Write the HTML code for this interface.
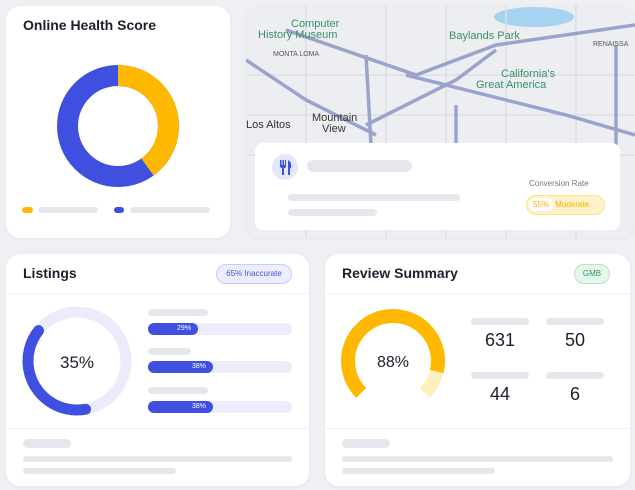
<!DOCTYPE html>
<html><head><style>
*{margin:0;padding:0;box-sizing:border-box}
body{width:635px;height:490px;background:#eef0f4;font-family:"Liberation Sans",sans-serif;position:relative;overflow:hidden;color:#1d1f2b}
.card{position:absolute;background:#fff;border-radius:14px;box-shadow:0 1px 4px rgba(0,0,0,.05)}
.abs{position:absolute}
.g{position:absolute;background:#e6e7ec;border-radius:6px}
.t{position:absolute;font-size:14px;font-weight:600}
</style></head><body>
<div class="card" style="left:6px;top:6px;width:224px;height:232px">
<div class="t" style="left:17px;top:11px">Online Health Score</div>
<svg class="abs" style="left:0;top:0" width="224" height="232">
<circle cx="112" cy="120" r="50.5" fill="none" stroke="#3f4fe0" stroke-width="21"/>
<circle cx="112" cy="120" r="50.5" fill="none" stroke="#ffb800" stroke-width="21" stroke-dasharray="127 400" transform="rotate(-90 112 120)"/>
</svg>
<div class="abs" style="left:16px;top:201px;width:11px;height:6px;border-radius:3px;background:#ffb800"></div>
<div class="g" style="left:32px;top:201px;width:60px;height:6px"></div>
<div class="abs" style="left:108px;top:201px;width:10px;height:6px;border-radius:3px;background:#3f4fe0"></div>
<div class="g" style="left:124px;top:201px;width:80px;height:6px"></div>
</div>

<div class="card" style="left:246px;top:5px;width:389px;height:233px;overflow:hidden;background:#eceef1">
<svg class="abs" width="389" height="233" style="left:0;top:0">
<ellipse cx="288" cy="12" rx="40" ry="10" fill="#a6d3f0"/>
<g fill="none" stroke="#dcdfe5" stroke-width="1.5">
<path d="M0 70 L389 70 M0 110 L389 110 M0 150 L389 150 M60 0 L60 233 M140 0 L140 233 M200 0 L200 233 M260 0 L260 233 M330 0 L330 233"/>
</g>
<g fill="none" stroke="#9aa3cc" stroke-width="3.5">
<path d="M40 25 L170 70 L250 40 L389 20"/>
<path d="M160 70 L320 110 L389 130"/>
<path d="M0 55 L60 95 L130 130"/>
<path d="M120 50 L125 140"/>
<path d="M120 120 L210 75 L250 45"/>
<path d="M370 40 L370 140 M210 100 L210 140"/>
</g>
<g font-size="11" fill="#3a8f6a"><text x="45" y="22">Computer</text><text x="12" y="33">History Museum</text><text x="203" y="34">Baylands Park</text><text x="255" y="72">California's</text><text x="230" y="83">Great America</text></g>
<g font-size="11" fill="#333"><text x="66" y="116">Mountain</text><text x="76" y="127">View</text><text x="0" y="123">Los Altos</text></g>
<g font-size="7" fill="#555"><text x="27" y="51">MONTA LOMA</text><text x="347" y="41">RENAISSA</text></g>
</svg>
<div class="abs" style="left:9px;top:138px;width:365px;height:87px;background:#fff;border-radius:8px">
<svg class="abs" style="left:17px;top:11px" width="26" height="26"><circle cx="13" cy="13" r="13" fill="#e4e6fb"/><path d="M8 6 V12 Q8 14 10 14 V21 H12 V14 Q14 14 14 12 V6 H13 V11 H12 V6 H10.5 V11 H9.5 V6Z M16 6 Q20 8 19 14 H18 V21 H16Z" fill="#3f4fe0"/></svg>
<div class="g" style="left:52px;top:17px;width:105px;height:12px"></div>
<div class="g" style="left:33px;top:51px;width:172px;height:7px"></div>
<div class="g" style="left:33px;top:66px;width:89px;height:7px"></div>
<div class="abs" style="left:274px;top:36px;font-size:8px;color:#777">Conversion Rate</div>
<div class="abs" style="left:271px;top:52px;width:79px;height:20px;border-radius:10px;background:#fff1c8;border:1px solid #ffe08a;font-size:8px;color:#f2b400;line-height:18px"><span style="background:#fff;border-radius:9px;padding:2px 4px;margin-left:2px">55%</span> Moderate</div>
</div>
</div>

<div class="card" style="left:6px;top:254px;width:303px;height:232px">
<div class="t" style="left:17px;top:11px">Listings</div>
<div class="abs" style="left:210px;top:10px;width:76px;height:20px;border-radius:10px;background:#eceeff;border:1px solid #c8ccf6;color:#4a55cf;font-size:8px;text-align:center;line-height:18px">65% Inaccurate</div>
<div class="abs" style="left:0;top:39px;width:303px;height:1px;background:#f0f1f4"></div>
<svg class="abs" style="left:0;top:0" width="303" height="232">
<circle cx="71" cy="107" r="49" fill="none" stroke="#ebebfc" stroke-width="11"/>
<circle cx="71" cy="107" r="49" fill="none" stroke="#3f4fe0" stroke-width="11" stroke-linecap="round" stroke-dasharray="118 400" transform="rotate(80 71 107)" />
<text x="71" y="114" font-size="17" text-anchor="middle" fill="#1d1f2b">35%</text>
</svg>
<div class="g" style="left:142px;top:55px;width:60px;height:7px"></div>
<div class="g" style="left:142px;top:94px;width:43px;height:7px"></div>
<div class="g" style="left:142px;top:133px;width:60px;height:7px"></div>
<div class="abs" style="left:142px;top:69px;width:144px;height:12px;border-radius:6px;background:#ebebfc"><div style="width:50px;height:12px;border-radius:6px;background:#3f4fe0;color:#fff;font-size:7px;text-align:right;padding-right:7px;line-height:12px">29%</div></div>
<div class="abs" style="left:142px;top:107px;width:144px;height:12px;border-radius:6px;background:#ebebfc"><div style="width:65px;height:12px;border-radius:6px;background:#3f4fe0;color:#fff;font-size:7px;text-align:right;padding-right:7px;line-height:12px">38%</div></div>
<div class="abs" style="left:142px;top:147px;width:144px;height:12px;border-radius:6px;background:#ebebfc"><div style="width:65px;height:12px;border-radius:6px;background:#3f4fe0;color:#fff;font-size:7px;text-align:right;padding-right:7px;line-height:12px">38%</div></div>
<div class="abs" style="left:0;top:174px;width:303px;height:1px;background:#f0f1f4"></div>
<div class="g" style="left:17px;top:185px;width:48px;height:9px"></div>
<div class="g" style="left:17px;top:202px;width:269px;height:6px"></div>
<div class="g" style="left:17px;top:214px;width:153px;height:6px"></div>
</div>

<div class="card" style="left:325px;top:254px;width:305px;height:232px">
<div class="t" style="left:17px;top:11px">Review Summary</div>
<div class="abs" style="left:249px;top:10px;width:36px;height:20px;border-radius:10px;background:#e5f6ec;border:1px solid #b4e3c5;color:#2c9a5a;font-size:8px;text-align:center;line-height:18px">GMB</div>
<div class="abs" style="left:0;top:39px;width:305px;height:1px;background:#f0f1f4"></div>
<svg class="abs" style="left:0;top:0" width="305" height="232">
<circle cx="68" cy="107" r="45" fill="none" stroke="#fff0c0" stroke-width="14" stroke-dasharray="212 400" transform="rotate(135 68 107)"/>
<circle cx="68" cy="107" r="45" fill="none" stroke="#ffb800" stroke-width="14" stroke-dasharray="187 400" transform="rotate(135 68 107)"/>
<text x="68" y="113" font-size="16" text-anchor="middle" fill="#1d1f2b">88%</text>
</svg>
<div class="g" style="left:146px;top:64px;width:58px;height:7px"></div>
<div class="g" style="left:221px;top:64px;width:58px;height:7px"></div>
<div class="g" style="left:146px;top:118px;width:58px;height:7px"></div>
<div class="g" style="left:221px;top:118px;width:58px;height:7px"></div>
<div class="abs" style="left:146px;top:76px;width:58px;text-align:center;font-size:18px">631</div>
<div class="abs" style="left:221px;top:76px;width:58px;text-align:center;font-size:18px">50</div>
<div class="abs" style="left:146px;top:130px;width:58px;text-align:center;font-size:18px">44</div>
<div class="abs" style="left:221px;top:130px;width:58px;text-align:center;font-size:18px">6</div>
<div class="abs" style="left:0;top:174px;width:305px;height:1px;background:#f0f1f4"></div>
<div class="g" style="left:17px;top:185px;width:48px;height:9px"></div>
<div class="g" style="left:17px;top:202px;width:271px;height:6px"></div>
<div class="g" style="left:17px;top:214px;width:153px;height:6px"></div>
</div>
</body></html>
